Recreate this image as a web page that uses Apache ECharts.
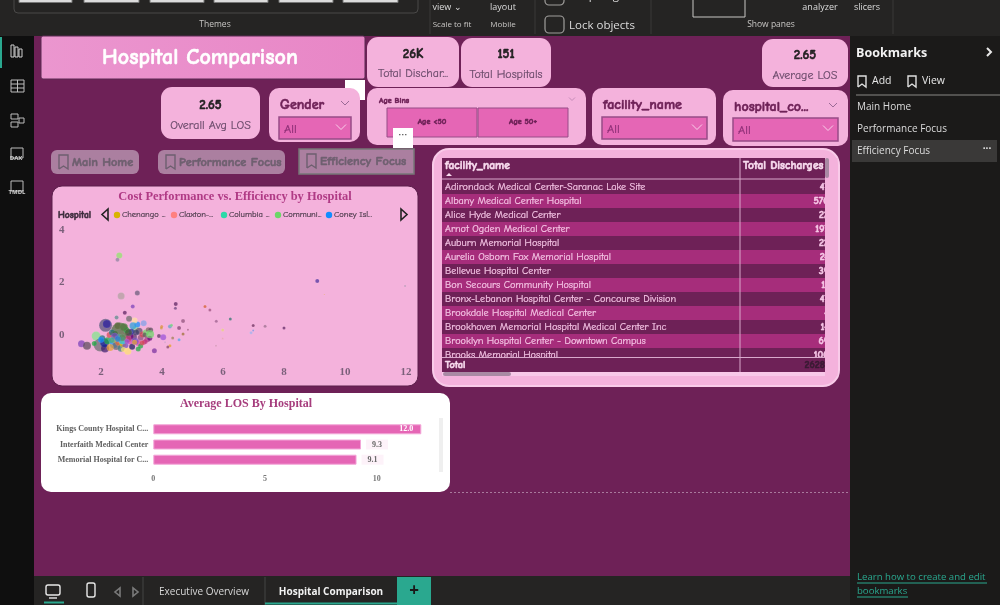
<!DOCTYPE html>
<html><head><meta charset="utf-8">
<style>html,body{margin:0;padding:0;background:#111}#c{width:1000px;height:605px}</style>
<script src="https://cdn.jsdelivr.net/npm/echarts@6/dist/echarts.min.js"></script>
</head><body><div id="c"></div>
<script>
// ---------- chart data ----------
const losValues = [2.60,2.54,2.66,3.19,3.04,2.78,2.51,4.45,4.44,5.41,5.57,4.69,4.56,4.85,5.78,6.24,5.99,5.99,5.77,6.99,7.38,8.00,6.99,6.92,9.09,9.32,11.97,3.99,3.98,4.26,4.31,3.90,4.04,4.35,4.69,4.56,4.26,4.19,3.75,4.10,
 1.36,1.54,1.84,2.15,2.19,2.62,1.97,2.13,2.12,2.22,2.28,2.36,2.42,2.50,2.58,2.66,2.72,2.80,2.88,2.95,3.02,3.08,3.13,3.19,3.25,3.30,3.36,3.41,3.47,3.52,3.55,3.60,3.10,3.05,2.92,2.84,2.70,2.46,2.30,1.78,2.04,2.95,3.22,3.40,3.30,3.12,2.88,2.74,2.58,2.40,3.44,3.00,
 3.63,3.61,3.45,3.22,2.00,2.55,2.75,2.45,2.90,3.15,2.35,2.70,2.55,3.10,2.85,3.35];
const costValues = [3.03,2.87,1.49,1.60,1.09,0.85,0.67,1.18,1.02,1.09,0.95,0.53,0.27,0.20,0.52,0.61,0.19,-0.13,-0.41,0.36,0.33,0.27,0.17,0.09,2.06,1.54,1.87,0.32,0.27,0.32,0.37,-0.04,-0.09,-0.11,0.04,-0.18,-0.41,-0.46,-0.60,-0.28,
 -0.33,-0.41,-0.04,0.37,0.42,0.13,-0.38,-0.51,-0.30,-0.22,0.00,0.10,-0.35,-0.42,-0.28,-0.50,-0.32,-0.40,-0.62,-0.25,-0.45,-0.08,0.22,0.40,0.14,-0.10,0.02,-0.28,0.10,-0.16,0.20,-0.12,0.55,0.35,0.62,0.18,-0.22,0.05,-0.48,-0.32,-0.12,-0.05,-0.30,0.45,-0.42,-0.24,-0.15,-0.55,-0.10,-0.18,0.00,0.12,
 0.19,0.03,-0.25,-0.53,-0.18,0.35,0.30,-0.05,0.10,0.10,-0.20,-0.10,-0.15,-0.28,-0.25,-0.30];
const bubbleSizes = [6,4,7,5,4,4,4,4,3,3,3,4,4,2,3,3,3,2,2,3,3,3,2,3,4,1,2,3,3,4,3,4,6,3,3,3,3,3,5,2,
 7,8,9,13,8,18,13,8,9,7,6,6,8,8,7,7,7,6,7,6,6,6,7,6,7,6,6,5,6,6,5,5,6,7,6,6,7,6,7,5,6,7,6,6,5,7,7,5,7,6,5,6,
 5,8,5,5,6,7,8,7,7,6,6,7,6,5,5,5];
const pointColors = ['#8fe56a','#8f7f9f','#b0a0a0','#6a5a7a','#7a3fb8','#5c1f5f','#5a8a8a','#5c1f5f','#6a3f7a','#d25a2a','#9a4a7a','#8f4f7a','#7f3f6f','#a05a80','#9a5a8a','#2a6f6a','#e8d080','#e8a0b0','#d090b0','#6a2a5a','#9a6a8a','#5c1f5f','#6f8fe8','#9fb0f0','#4a2f9e','#e8a050','#b090b0','#e0883a','#d09a3a','#5f9fc8','#6fd67a','#5c2f5f','#9a4fd8','#a07a50','#9a6a2f','#4fa0e8','#e8a020','#7f3f5f','#7a2f9e','#d0a0c8',
 '#7a3fb8','#5a4a5a','#7fe88a','#55557a','#2a1f9e','#4a6b3a','#6b6b70','#3b1a6b','#12239e','#1aab40','#d64550','#197278','#118dff','#6b6b6b','#e66c37','#3f7f7f','#d9b300','#744ec2','#ffe070','#e044a7','#1a1a5e','#5a3a6a','#9fe08a','#118dff','#5a4a6a','#8a4a7a','#d64550','#b0508a','#6cd667','#a03a7a','#7f5f5f','#6b007b','#ffe0a0','#2b9fd9','#6a6a6a','#1aab40','#15c6f4','#3b6b3b','#e6a030','#1aab40','#197278','#6b007b','#e044a7','#7f9fe8','#1aab40','#744ec2','#c04070','#ffe070','#2ba8a8','#d9b300','#5a5a5a','#12239e',
 '#5a4a5a','#6cd667','#c8327f','#1aab40','#118dff','#5a6a3a','#4f7a3f','#744ec2','#4a5a3a','#3a3a6a','#2ba8a8','#5a8a5a','#2b7fd9','#e6a030','#9a4fd8','#d64550'];
const barCategories = ['Kings County Hospital C...','Interfaith Medical Center','Memorial Hospital for C...'];
const barValues = [12.0,9.3,9.1];
const legendNames = ['Chenango ...','Claxton-...','Columbia ...','Communi...','Coney Isl...'];
const legendColors = ['#d9b300','#ff8080','#2bd9a8','#6cd667','#118dff'];
const tableFacilities = ['Adirondack Medical Center-Saranac Lake Site','Albany Medical Center Hospital','Alice Hyde Medical Center','Arnot Ogden Medical Center','Auburn Memorial Hospital','Aurelia Osborn Fox Memorial Hospital','Bellevue Hospital Center','Bon Secours Community Hospital','Bronx-Lebanon Hospital Center - Concourse Division','Brookdale Hospital Medical Center','Brookhaven Memorial Hospital Medical Center Inc','Brooklyn Hospital Center - Downtown Campus','Brooks Memorial Hospital'];
const tableDischarges = ['47','570','22','197','22','24','39','11','47','4','14','69','100'];
const tableTotal = '26288';
const kpiLabels = ['Total Dischar...','Total Hospitals','Average LOS','Overall Avg LOS'];
const kpiValues = ['26K','151','2.65','2.65'];
const bookmarks = ['Main Home','Performance Focus','Efficiency Focus'];

// ---------- drawing helpers ----------
const COMIC = '"Comic Sans MS","Comic Neue","DejaVu Sans"';
const SANS = '"Open Sans","Noto Sans"';
const SERIF = '"Liberation Serif","DejaVu Serif"';
let order = 1; const G = [];
function rect(x,y,w,h,fill,r,stroke,lw){G.push({type:'rect',silent:true,z:0,z2:order++,shape:{x,y,width:w,height:h,r:r||0},style:{fill:fill||'none',stroke:stroke||null,lineWidth:lw||1}});}
function txt(x,y,text,size,fill,family,weight,align){
  const comic=!family||family===COMIC;
  const style={text,fill,font:(weight||'normal')+' '+size+'px '+(family||COMIC),align:align||'left',verticalAlign:'middle'};
  if(comic){style.stroke=fill;style.lineWidth=weight==='bold'?0.55:0.2;}
  G.push({type:'text',silent:true,z:0,z2:order++,x,y,style});
}
function line(x1,y1,x2,y2,stroke,lw){G.push({type:'line',silent:true,z:0,z2:order++,shape:{x1,y1,x2,y2},style:{stroke,lineWidth:lw||1}});}
function poly(points,fill,stroke,lw){G.push({type:'polyline',silent:true,z:0,z2:order++,shape:{points},style:{fill:'none',stroke:stroke||fill,lineWidth:lw||1}});}
function tri(points,fill,stroke){G.push({type:'polygon',silent:true,z:0,z2:order++,shape:{points},style:{fill,stroke:stroke||null,lineWidth:1.6}});}
function chevron(cx,cy,s,color){poly([[cx-s,cy-s/2],[cx,cy+s/2],[cx+s,cy-s/2]],null,color,1);}
function bookmarkIcon(x,y,w,h,color){poly([[x,y+h],[x,y],[x+w,y],[x+w,y+h],[x+w/2,y+h-3],[x,y+h]],null,color,1.4);}

const PAGE='#6e2157', CARD='#f4b2dc', DD='#e566b5', DDB='#964c87', DARK='#232122';
rect(0,0,1000,605,'#0f0f0f');
rect(34,36,816,540,PAGE);
rect(0,0,1000,36,'#252423');
// ribbon
rect(14,-8,404,21,'none',4,'#4a4948');
[[19,53],[84,55],[150,54],[214,54],[279,54],[343,55]].forEach(a=>rect(a[0],-2,a[1],4.5,'#dcdcdc',0,'#777'));
txt(215,24.5,'Themes',8.5,'#c8c6c4',SANS,'normal','center');
line(430,0,430,34,'#3a3938');line(535,0,535,34,'#3a3938');line(651,0,651,34,'#3a3938');line(893,0,893,34,'#3a3938');
txt(447,7.5,'view ⌄',9,'#dcdcdc',SANS,'normal','center');
txt(452,24.5,'Scale to fit',8,'#c8c6c4',SANS,'normal','center');
txt(503,7.5,'layout',9,'#dcdcdc',SANS,'normal','center');
txt(503,24.5,'Mobile',8,'#c8c6c4',SANS,'normal','center');
rect(545,-8,19,13,'none',4,'#a09e9c',1.2);
rect(545,16,19,17,'none',4,'#a09e9c',1.2);
txt(569,-4,'Snap to grid',11.5,'#dcdcdc',SANS,'normal','left');
txt(569,26,'Lock objects',11.5,'#dcdcdc',SANS,'normal','left');
rect(693,-6,52,23,'none',0,'#c8c6c4');
txt(771,24.5,'Show panes',8.5,'#c8c6c4',SANS,'normal','center');
txt(820,7.5,'analyzer',9,'#dcdcdc',SANS,'normal','center');
txt(867,7.5,'slicers',9,'#dcdcdc',SANS,'normal','center');
// left rail
rect(0,37,2,31,'#2aa88f');
rect(11,45,3,12,'none',0,'#d0d0d0');rect(15,47,3,10,'none',0,'#d0d0d0');rect(19,49,3,8,'none',0,'#d0d0d0');
rect(11,80,13,12,'none',0,'#bdbdbd');line(11,84,24,84,'#bdbdbd');line(11,88,24,88,'#bdbdbd');line(17.5,80,17.5,92,'#bdbdbd');
rect(11,114,7,5,'none',0,'#bdbdbd');rect(11,122,7,5,'none',0,'#bdbdbd');rect(19,118,5,5,'none',0,'#bdbdbd');
rect(11,148,12,10,'none',0,'#bdbdbd');txt(16,158,'DAX',6,'#d0d0d0',SANS,'bold','center');
rect(11,181,12,10,'none',0,'#bdbdbd');txt(17,192,'TMDL',6,'#d0d0d0',SANS,'bold','center');
G.push({type:'line',silent:true,z:0,z2:order++,shape:{x1:450,y1:492.5,x2:849,y2:492.5},style:{stroke:'#a87a9c',lineWidth:1,lineDash:[2,2]}});

// title
G.push({type:'rect',silent:true,z:0,z2:order++,shape:{x:41,y:36,width:324,height:43,r:2},style:{stroke:'#5a2a52',lineWidth:1,fill:{type:'linear',x:0,y:0,x2:1,y2:0,colorStops:[{offset:0,color:'#eb96cf'},{offset:1,color:'#e886c6'}]}}});
txt(200,57.5,'Hospital Comparison',22,'#ffffff',COMIC,'bold','center');
rect(345,80,20,20,'#ffffff');
// KPI cards
function kpi(x,y,w,h,val,lab,vy,ly){rect(x,y,w,h,CARD,11);txt(x+w/2,vy,val,13,DARK,COMIC,'bold','center');txt(x+w/2,ly,lab,12,'#6b4b6b',COMIC,'normal','center');}
kpi(367,37,92,50,kpiValues[0],kpiLabels[0],54,73.5);
kpi(461,38,90,49,kpiValues[1],kpiLabels[1],54,74.5);
kpi(762,39,86,48,kpiValues[2],kpiLabels[2],55,75.5);
kpi(161,87,99,52,kpiValues[3],kpiLabels[3],105,125.5);
// slicers
function slicer(x,y,w,h,title,dx,dy,dw,dh,arrow){rect(x,y,w,h,CARD,10);txt(x+11,y+17,title,14,'#6e2157',COMIC,'bold','left');rect(dx,dy,dw,dh,DD,0,DDB,1.5);txt(dx+5,dy+12,'All',12.5,'#8e2f76',COMIC,'normal','left');chevron(dx+dw-10,dy+10,5,'#f9d0ea');if(arrow)chevron(x+w-15,y+15,4,'#9a6a96');}
slicer(269,88,91,54,'Gender',279,117,72,22,true);
slicer(592,88,124,57,'facility_name',602,117,105,22,false);
slicer(723,90,125,56,'hospital_co...',733,118,105,23,true);
rect(367,88,219,57,CARD,10);
txt(379,100.5,'Age Bins',8,'#6e2157',COMIC,'bold','left');chevron(572,99,3,'#c58cb8');
rect(387,108,90,29,DD,0,DDB,1);rect(478,108,90,29,DD,0,DDB,1);
txt(432,122,'Age <50',8,'#6e2157',COMIC,'bold','center');txt(523,122,'Age 50+',8,'#6e2157',COMIC,'bold','center');
// bookmark buttons
[[51,150,88,24],[158,150,127,24],[299,149,115,25]].forEach((b,i)=>{
  rect(b[0],b[1],b[2],b[3],'#ab7fa0',i==2?0:6,i==2?'#777':null,i==2?1.5:1);
  bookmarkIcon(b[0]+8,b[1]+5,9,14,'#6e5f6f');
  txt(b[0]+21,b[1]+13,bookmarks[i],12.3,'#6e5f6f',COMIC,'bold','left');
});
rect(393,128,20,20,'#ffffff');txt(403,136,'···',9,'#555','Arial','bold','center');
// scatter card
rect(52,186,366,200,CARD,10,'#5c1f4c');
txt(235,196.5,'Cost Performance vs. Efficiency by Hospital',12.4,'#b03a85',SERIF,'bold','center');
txt(58,215,'Hospital',9.5,'#3a2a3a',COMIC,'bold','left');
tri([[108,209],[108,220],[102,214.5]],'#f4b2dc','#222');
tri([[401,209],[401,220],[407,214.5]],'#f4b2dc','#222');
const legX=[117,174,224,278,329];
legendNames.forEach((n,i)=>{G.push({type:'circle',silent:true,z:0,z2:order++,shape:{cx:legX[i],cy:215,r:3.2},style:{fill:legendColors[i]}});txt(legX[i]+5,215,n,8.5,'#4a3a4a',COMIC,'normal','left');});
// bar card
rect(41,393,409,99,'#ffffff',10);
txt(246,403.5,'Average LOS By Hospital',12,'#a63d7d',SERIF,'bold','center');
rect(439,418,4,54,'#efefef');
// table
rect(433,149,406,237,CARD,16,'#f9cbe9',2);
rect(442,158,383,214,PAGE);
txt(445,166,'facility_name',11.5,'#f9dcef',COMIC,'bold','left');
tri([[446,176],[452,176],[449,173]],'#f9dcef');
txt(743,166,'Total Discharges',11.5,'#f9dcef',COMIC,'bold','left');
line(442,179,825,179,'#d9a9cc');
tableFacilities.forEach((n,i)=>{
  const y=187.3+i*14;
  if(i%2==1) rect(442,y-7.3,383,14,'#a62d7b');
  txt(445,y,n,10.2,'#f6c6e6',COMIC,'normal','left');
  txt(829,y,tableDischarges[i],10,'#f6c6e6',COMIC,'bold','right');
});
rect(442,358,383,14,PAGE);
line(442,357.5,825,357.5,'#d9a9cc');
line(740,158,740,372,'#d9a9cc');
txt(445,365,'Total',10.2,'#f9dcef',COMIC,'bold','left');
txt(830,365,tableTotal,10,'#3a1a33',COMIC,'bold','right');
rect(825,158,12.5,218,CARD);
rect(825,158,4,20,'#a98aa4',2);
rect(442,372,383,4,'#f8c8e8');
rect(443,372,68,4,'#a98aa4',2);
// right pane
rect(850,36,150,569,'#1b1a19');
txt(856,53,'Bookmarks',12.5,'#f2f2f2',SANS,'bold','left');
poly([[987,48],[991,52],[987,56]],null,'#e8e8e8',2);
bookmarkIcon(858,76,8,11,'#e0e0e0');txt(872,81.5,'Add',10.5,'#e8e8e8',SANS,'normal','left');
bookmarkIcon(908,76,8,11,'#e0e0e0');txt(922,81.5,'View',10.5,'#e8e8e8',SANS,'normal','left');
line(856,95,1000,95,'#8a8886');
txt(857,107.5,bookmarks[0],10,'#dcdcdc',SANS,'normal','left');
txt(857,129.5,bookmarks[1],10,'#dcdcdc',SANS,'normal','left');
rect(852,140,145,22,'#3a3938');
txt(857,151.5,bookmarks[2],10,'#dcdcdc',SANS,'normal','left');
txt(987,149,'···',10,'#e8e8e8',SANS,'bold','center');
txt(857,577,'Learn how to create and edit',9.6,'#2aa88f',SANS,'normal','left');line(857,583,987,583,'#2aa88f');
txt(857,591,'bookmarks',9.6,'#2aa88f',SANS,'normal','left');line(857,597,908,597,'#2aa88f');
// bottom tabs
rect(34,576,816,29,'#252423');
rect(46,585,14,10,'none',2,'#e8e8e8',1.4);line(49,598,57,598,'#e8e8e8',1.4);
rect(44,601.5,20,2,'#2aa88f');
rect(87,583,8,14,'none',2,'#e8e8e8',1.4);
tri([[120,588],[120,596],[115,592]],'none','#7a7a7a');tri([[133,588],[133,596],[138,592]],'none','#7a7a7a');
line(143,577,143,605,'#444');line(265,577,265,605,'#444');
txt(204,592.5,'Executive Overview',10,'#d8d8d8',SANS,'normal','center');
txt(331,592.5,'Hospital Comparison',10,'#f2f2f2',SANS,'bold','center');
rect(265,602.5,132,2,'#2aa88f');
rect(397,577,34,28,'#2aa88f');
txt(414,591,'+',17,'#1a1a1a',SANS,'bold','center');

// ---------- chart ----------
const axisGrey='#7a5f7a';
const scatterData = losValues.map((x,i)=>[x,costValues[i],bubbleSizes[i],i]);
const chart = echarts.init(document.getElementById('c'),null,{renderer:'canvas'});
chart.setOption({
  animation:false,
  graphic:{elements:G},
  grid:[
    {left:70.5,top:230,width:335.5,height:131.25},
    {left:153.3,top:421.7,width:268,height:45.6}
  ],
  xAxis:[
    {gridIndex:0,z:10,type:'value',min:1,max:12,interval:1,axisLine:{show:false},axisTick:{show:false},splitLine:{show:false},
     axisLabel:{hideOverlap:false,margin:5,color:axisGrey,fontFamily:SERIF,fontWeight:'bold',fontSize:11,formatter:v=>v%2===0?String(v):''}},
    {gridIndex:1,z:10,type:'value',min:0,max:12,interval:5,axisLine:{show:false},axisTick:{show:false},splitLine:{show:false},
     axisLabel:{margin:8,color:'#777',fontFamily:SERIF,fontWeight:'bold',fontSize:8,showMaxLabel:false}}
  ],
  yAxis:[
    {gridIndex:0,z:10,type:'value',min:-1,max:4,interval:1,axisLine:{show:false},axisTick:{show:false},splitLine:{show:false},
     axisLabel:{margin:6,color:axisGrey,fontFamily:SERIF,fontWeight:'bold',fontSize:11,formatter:v=>(v%2===0)?String(v):''}},
    {gridIndex:1,z:10,type:'category',inverse:true,data:barCategories,axisLine:{show:false},axisTick:{show:false},
     axisLabel:{margin:5,color:'#5f5f5f',fontFamily:SERIF,fontWeight:'bold',fontSize:8}}
  ],
  series:[
    {type:'scatter',xAxisIndex:0,yAxisIndex:0,z:5,data:scatterData,
     symbolSize:v=>v[2],
     itemStyle:{opacity:.72,color:p=>pointColors[p.data[3]],borderColor:'rgba(255,255,255,.25)',borderWidth:.4}},
    {type:'bar',xAxisIndex:1,yAxisIndex:1,z:5,barWidth:10,
     data:barValues.map((v,i)=>({value:v,label:i===0?{position:'insideRight',color:'#fff',backgroundColor:'transparent',offset:[-3,0]}:{position:'right',color:'#666',backgroundColor:'#fdf2f9',padding:[1,6,1,6],distance:5}})),
     itemStyle:{color:'#e566b5',borderColor:'#f3a6d8',borderWidth:1},
     label:{show:true,fontFamily:SERIF,fontWeight:'bold',fontSize:8,formatter:p=>p.value.toFixed(1)}}
  ]
});
</script></body></html>
